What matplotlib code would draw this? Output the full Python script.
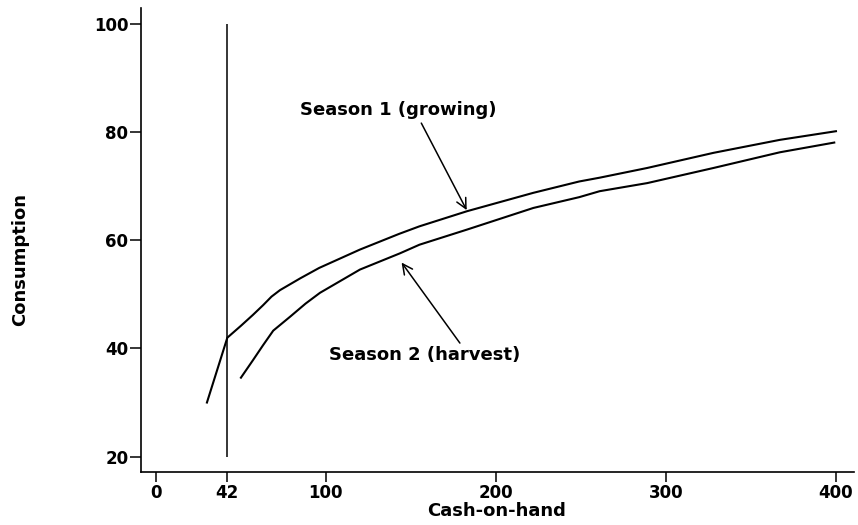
import matplotlib
matplotlib.use("Agg")
import matplotlib.pyplot as plt

# values
season1_cash = [30, 42, 50, 57, 63, 68, 73, 85, 96, 120, 143, 155, 183, 222, 249, 261, 289, 328, 367, 400]
season1_cons = [30, 42, 44.2, 46.2, 48.0, 49.6, 50.8, 53.0, 54.9, 58.3, 61.2, 62.6, 65.4, 68.8, 70.9, 71.6, 73.4, 76.2, 78.6, 80.2]

season2_cash = [50, 57, 63, 69, 79, 88, 96.5, 120, 143.5, 155, 183, 222, 249, 261, 289, 328, 367, 399]
season2_cons = [34.6, 37.8, 40.6, 43.3, 45.9, 48.3, 50.3, 54.6, 57.6, 59.2, 62.0, 66.0, 68.0, 69.1, 70.6, 73.4, 76.3, 78.1]

threshold = 42
x_ticks = [0, 42, 100, 200, 300, 400]
y_ticks = [20, 40, 60, 80, 100]

plt.rcParams['font.family'] = ['DejaVu Sans']
plt.rcParams['font.weight'] = 'bold'

fig = plt.figure(figsize=(8.58, 5.25), dpi=100)
ax = fig.add_axes([0.1643, 0.1015, 0.8310, 0.8833])

ax.plot(season1_cash, season1_cons, color='black', lw=1.5)
ax.plot(season2_cash, season2_cons, color='black', lw=1.5)
ax.vlines(threshold, 20, 100, color='black', lw=1.1)

# labels and arrows
ax.text(142.4, 84.2, 'Season 1 (growing)', ha='center', va='center',
        fontsize=13, fontweight='bold')
ax.text(158.2, 38.8, 'Season 2 (harvest)', ha='center', va='center',
        fontsize=13, fontweight='bold')
arrow = dict(arrowstyle='->', color='black', lw=1.1, mutation_scale=18,
             shrinkA=0, shrinkB=0)
ax.annotate('', xy=(182.8, 65.6), xytext=(156.1, 81.7), arrowprops=arrow)
ax.annotate('', xy=(144.5, 55.9), xytext=(178.8, 41.0), arrowprops=arrow)

ax.set_xlim(-8.8, 410.6)
ax.set_ylim(17.2, 103)
ax.set_xticks(x_ticks)
ax.set_yticks(y_ticks)
ax.tick_params(axis='x', length=7, width=1.1, labelsize=12, pad=2)
ax.tick_params(axis='y', length=8, width=1.1, labelsize=12, pad=1)
for lab in ax.get_xticklabels() + ax.get_yticklabels():
    lab.set_fontweight('bold')

for side in ['top', 'right']:
    ax.spines[side].set_visible(False)
for side in ['left', 'bottom']:
    ax.spines[side].set_linewidth(1.2)

fig.text(497 / 858, 1 - 511 / 525, 'Cash-on-hand', ha='center', va='center',
         fontsize=13, fontweight='bold')
fig.text(20 / 858, 1 - 260 / 525, 'Consumption', ha='center', va='center',
         rotation=90, fontsize=13, fontweight='bold')

fig.savefig('out.png', dpi=100)
